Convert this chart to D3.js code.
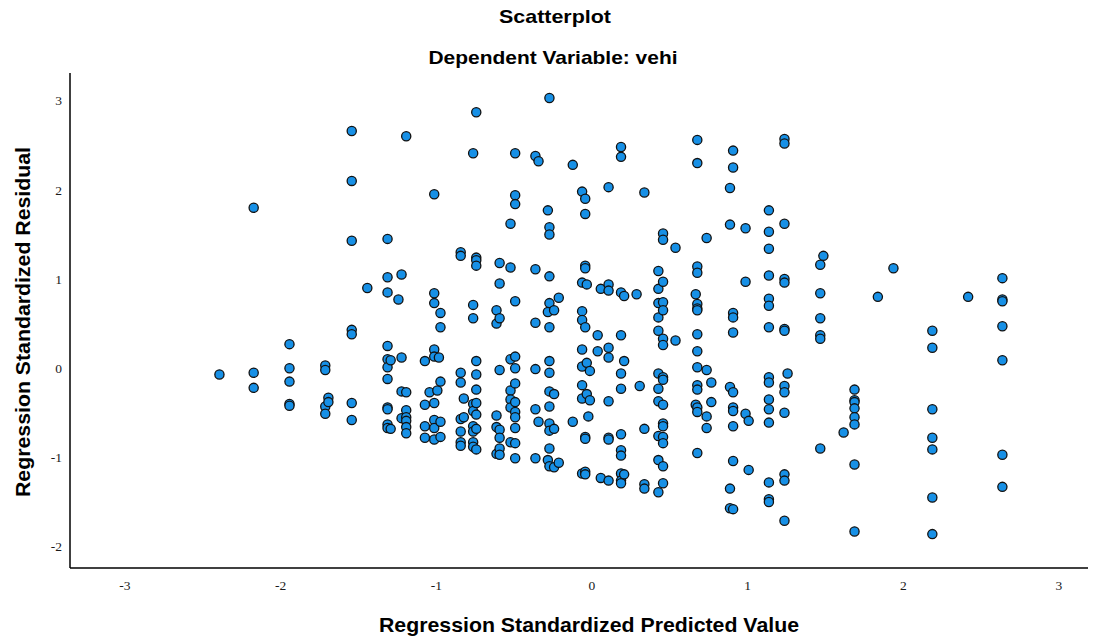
<!DOCTYPE html>
<html>
<head>
<meta charset="utf-8">
<script src="https://cdn.jsdelivr.net/npm/d3@7"></script>
<style>
  body { margin: 0; background: #fff; }
  .title { font-family: "Liberation Sans", Arial, sans-serif; font-weight: bold; font-size: 19px; fill: #000; }
  .axis-label { font-family: "Liberation Sans", Arial, sans-serif; font-weight: bold; font-size: 21px; fill: #000; }
  .axis text { font-family: "Liberation Serif", "DejaVu Serif", serif; font-size: 13.5px; fill: #1a1a1a; }
  .axis path { stroke: #000; stroke-width: 1.5; }
  .dot { fill: #1790e6; stroke: #111; stroke-width: 1.3; }
</style>
</head>
<body>
<div id="chart"></div>
<script>

// chart data: predicted value columns and the residuals seen in each
var predicted = [-2.39, -2.17, -1.94, -1.71, -1.69, -1.54, -1.44, -1.31, -1.29, -1.24,
  -1.22, -1.19, -1.07, -1.04, -1.01, -0.99, -0.98, -0.97, -0.84, -0.82,
  -0.76, -0.74, -0.61, -0.59, -0.52, -0.49, -0.36, -0.34, -0.28, -0.27,
  -0.24, -0.21, -0.12, -0.06, -0.04, -0.03, -0.02, -0.01, 0.04, 0.06,
  0.11, 0.19, 0.21, 0.29, 0.31, 0.34, 0.43, 0.46, 0.54, 0.67,
  0.68, 0.74, 0.77, 0.89, 0.91, 0.99, 1.01, 1.14, 1.24, 1.26,
  1.47, 1.49, 1.62, 1.69, 1.84, 1.94, 2.19, 2.42, 2.64];

var residuals = [
  [-0.07],
  [1.80, -0.05, -0.22],
  [0.27, 0.00, -0.15, -0.40, -0.42],
  [0.03, -0.02, -0.43, -0.51],
  [-0.33, -0.38],
  [2.66, 2.10, 1.43, 0.43, 0.38, -0.39, -0.58],
  [0.90],
  [1.45, 1.02, 0.85, 0.25, 0.10, 0.01, -0.12, -0.44, -0.46, -0.63, -0.67],
  [0.09, -0.68],
  [0.77],
  [1.05, 0.12, -0.26, -0.56],
  [2.60, -0.27, -0.47, -0.55, -0.59, -0.66, -0.73],
  [0.08, -0.41, -0.65, -0.78],
  [-0.27],
  [1.95, 0.84, 0.73, 0.21, 0.13, -0.39, -0.58, -0.67, -0.80],
  [-0.25],
  [0.12],
  [0.62, 0.46, -0.15, -0.60, -0.77],
  [1.30, 1.26, -0.05, -0.16, -0.57, -0.71, -0.83, -0.87],
  [-0.34, -0.55],
  [2.41, 0.71, 0.56, -0.40, -0.48, -0.65, -0.71, -0.83, -0.88],
  [2.87, 1.24, 1.21, 1.15, 0.08, -0.07, -0.24, -0.39, -0.52, -0.68, -0.91],
  [0.65, 0.50, -0.53, -0.66, -0.96],
  [1.18, 0.95, 0.56, -0.02, -0.69, -0.78, -0.90, -0.97],
  [1.62, 1.13, 0.10, -0.25, -0.35, -0.44, -0.83],
  [2.41, 1.94, 1.84, 0.75, 0.13, 0.00, -0.17, -0.38, -0.49, -0.55, -0.67, -0.84, -1.01],
  [2.38, 1.11, 0.51, -0.01, -0.46, -1.01],
  [2.32, -0.60],
  [1.77, 0.63, -1.03],
  [3.03, 1.58, 1.50, 1.03, 0.73, 0.46, 0.08, -0.05, -0.26, -0.43, -0.62, -0.70, -0.90, -1.10],
  [0.65, -0.29, -0.68, -1.11],
  [0.79, -1.06],
  [2.28, -0.60],
  [1.98, 0.96, 0.64, 0.54, 0.21, 0.02, -0.19, -0.34, -1.18],
  [1.90, 1.73, 1.15, 1.12, 0.46, -0.77, -0.79, -1.16, -1.19],
  [0.94, 0.06, -0.29],
  [-0.54],
  [-0.03, -0.36],
  [0.37, 0.19],
  [0.89, -1.23],
  [2.03, 0.94, 0.87, 0.23, 0.12, -0.37, -0.78, -0.80, -1.26],
  [2.48, 2.37, 0.85, 0.37, -0.06, -0.23, -0.74, -0.92, -0.98, -1.18, -1.26, -1.29],
  [0.81, 0.08, -1.19],
  [0.83],
  [-0.20],
  [1.97, -0.68, -1.30, -1.35],
  [1.09, 0.89, 0.73, 0.57, 0.42, -0.06, -0.23, -0.37, -0.76, -1.03, -1.39],
  [1.51, 1.44, 0.97, 0.74, 0.65, 0.33, 0.26, -0.10, -0.13, -0.41, -0.62, -0.65, -0.77, -0.84, -1.10, -1.29],
  [1.35, 0.31],
  [0.83, -0.41],
  [2.56, 2.30, 1.14, 1.07, 0.72, 0.67, 0.65, 0.38, 0.19, 0.01, -0.19, -0.24, -0.44, -0.49, -0.95],
  [1.46, -0.02, -0.54, -0.67],
  [-0.16, -0.38],
  [2.02, 1.61, -0.21, -1.35, -1.57],
  [2.44, 2.25, 0.62, 0.57, 0.40, -0.27, -0.44, -0.48, -0.65, -1.04, -1.58],
  [1.57, 0.97, -0.51],
  [-0.59, -1.14],
  [1.77, 1.53, 1.34, 1.04, 0.78, 0.70, 0.46, -0.10, -0.16, -0.35, -0.46, -0.61, -1.28, -1.47, -1.50],
  [2.57, 2.52, 1.62, 1.00, 0.96, 0.44, 0.42, -0.20, -0.27, -0.50, -1.19, -1.26, -1.71],
  [-0.06],
  [1.16, 0.84, 0.56, 0.37, 0.33, -0.90],
  [1.26],
  [-0.72],
  [-0.24, -0.36, -0.38, -0.45, -0.55, -0.63, -1.08, -1.83],
  [0.80],
  [1.12],
  [0.42, 0.23, -0.46, -0.78, -0.91, -1.45, -1.86],
  [0.80],
  [1.01, 0.77, 0.75, 0.47, 0.09, -0.97, -1.33]
];

var xTicks = [-3, -2, -1, 0, 1, 2, 3],
    yTicks = [-2, -1, 0, 1, 2, 3];

var titleText = "Scatterplot",
    subtitleText = "Dependent Variable: vehi",
    xLabel = "Regression Standardized Predicted Value",
    yLabel = "Regression Standardized Residual";

// setup dimensions
var width = 1102,
    height = 640,
    plot = {left: 70, right: 1088, top: 73, bottom: 568};

// add svg
var svg = d3.select("#chart").append("svg")
  .attr("width", width)
  .attr("height", height);

// setup scales
var x = d3.scaleLinear()
  .domain([-3.35, 3.19])
  .range([plot.left, plot.right]);
var y = d3.scaleLinear()
  .domain([-2.24, 3.31])
  .range([plot.bottom, plot.top]);

// flatten columns into points
var points = [];
predicted.forEach(function(p, i) {
  residuals[i].forEach(function(r) { points.push({x: p, y: r}); });
});

// titles (the original font is a bit wider, so stretch to its width)
svg.append("text")
  .attr("class", "title")
  .attr("x", 555)
  .attr("y", 23)
  .attr("text-anchor", "middle")
  .attr("textLength", 112)
  .attr("lengthAdjust", "spacingAndGlyphs")
  .text(titleText);
svg.append("text")
  .attr("class", "title")
  .attr("x", 553)
  .attr("y", 64)
  .attr("text-anchor", "middle")
  .attr("textLength", 249)
  .attr("lengthAdjust", "spacingAndGlyphs")
  .text(subtitleText);

// add axes
var fmt = function(d) { return d < 0 ? "-" + (-d) : d; };
svg.append("g")
  .attr("class", "axis axis--x")
  .attr("transform", "translate(0," + plot.bottom + ")")
  .call(d3.axisBottom(x).tickValues(xTicks).tickSize(0).tickPadding(12).tickFormat(fmt))
  .call(function(g) {
    g.select(".domain").attr("d", "M" + plot.left + ",0H" + plot.right);
  });
svg.append("g")
  .attr("class", "axis axis--y")
  .attr("transform", "translate(" + plot.left + ",0)")
  .call(d3.axisLeft(y).tickValues(yTicks).tickSize(0).tickPadding(8).tickFormat(fmt))
  .call(function(g) {
    g.select(".domain").attr("d", "M0," + plot.top + "V" + plot.bottom);
  });

// axis labels
svg.append("text")
  .attr("class", "axis-label")
  .attr("x", 589)
  .attr("y", 632)
  .attr("text-anchor", "middle")
  .attr("textLength", 420)
  .attr("lengthAdjust", "spacingAndGlyphs")
  .text(xLabel);
svg.append("text")
  .attr("class", "axis-label")
  .attr("transform", "translate(30,322) rotate(-90)")
  .attr("text-anchor", "middle")
  .attr("textLength", 350)
  .attr("lengthAdjust", "spacingAndGlyphs")
  .text(yLabel);

// add points
svg.selectAll("circle.dot")
  .data(points)
  .enter().append("circle")
  .attr("class", "dot")
  .attr("cx", function(d) { return x(d.x); })
  .attr("cy", function(d) { return y(d.y); })
  .attr("r", 4.6);

</script>
</body>
</html>
